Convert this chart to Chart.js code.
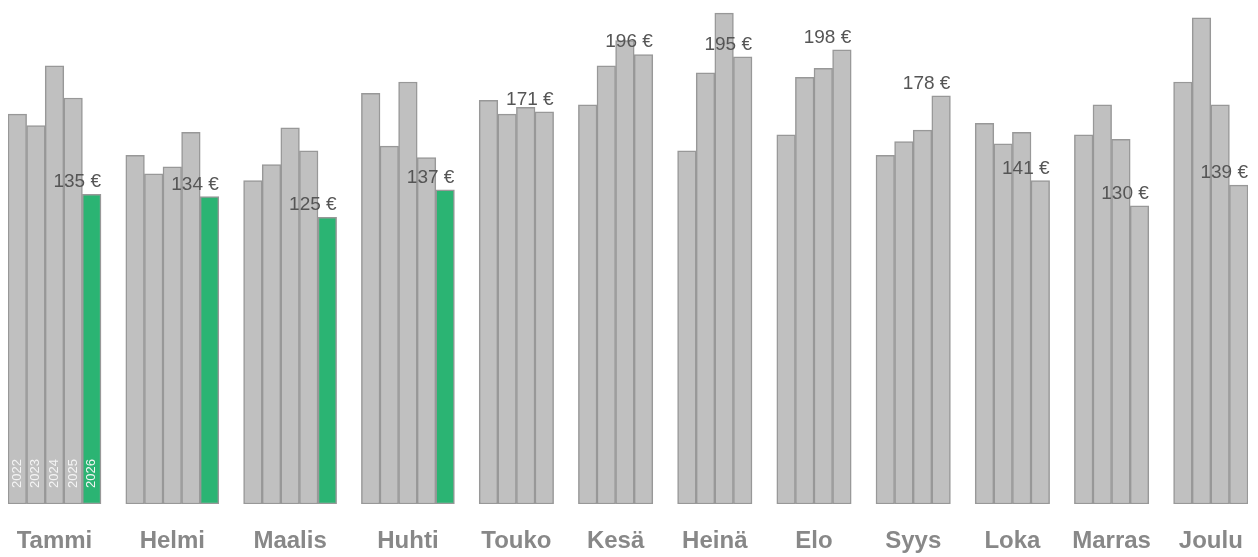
<!DOCTYPE html>
<html>
<head>
<meta charset="utf-8">
<script src="https://cdn.jsdelivr.net/npm/chart.js@4"></script>
<style>
  html, body { margin: 0; padding: 0; background: #fff; }
  #wrap { width: 1258px; height: 557px; }
</style>
</head>
<body>
<div id="wrap"><canvas id="kaavio"></canvas></div>
<script>
// Kuukaudet ja vuosien hinnat (€)
var kuukaudet = ['Tammi', 'Helmi', 'Maalis', 'Huhti', 'Touko', 'Kesä', 'Heinä', 'Elo', 'Syys', 'Loka', 'Marras', 'Joulu'];
var vuodet = ['2022', '2023', '2024', '2025', '2026'];
var v2022 = [170, 152, 141, 179, 176, 174, 154, 161, 152, 166, 161, 184];
var v2023 = [165, 144, 148, 156, 170, 191, 188, 186, 158, 157, 174, 212];
var v2024 = [191, 147, 164, 184, 173, 202, 214, 190, 163, 162, 159, 174];
var v2025 = [177, 162, 154, 151, 171, 196, 195, 198, 178, 141, 130, 139];
var v2026 = [135, 134, 125, 137, null, null, null, null, null, null, null, null];

var sarjat = [v2022, v2023, v2024, v2025, v2026];
var VALI = 1.333; // ryhmien väli pylväsleveyksinä

// Lasketaan pylväiden paikat x-akselilla (yksi yksikkö = yksi pylväs)
var paikat = [];   // paikat[kk][vuosi]
var kesket = [];
var pos = 0;
kuukaudet.forEach(function (kk, m) {
  var n = sarjat.filter(function (s) { return s[m] !== null; }).length;
  paikat.push([]);
  for (var j = 0; j < sarjat.length; j++) paikat[m].push(pos + j + 0.5);
  kesket.push(pos + n / 2);
  pos += n + VALI;
});
var yhteensa = pos - VALI;

var datasets = sarjat.map(function (s, j) {
  return {
    label: vuodet[j],
    data: s.map(function (v, m) { return { x: paikat[m][j], y: v }; }),
    backgroundColor: j === 4 ? '#2bb473' : '#c0c0c0',
    borderColor: '#989898',
    borderWidth: 1.5,
    borderSkipped: false,
    grouped: false,
    barPercentage: 1,
    categoryPercentage: 1
  };
});

// Arvot viimeisen pylvään päälle, vuosiluvut ensimmäiseen ryhmään, kuukaudet alle
var tekstit = {
  id: 'tekstit',
  afterDatasetsDraw: function (chart) {
    var c = chart.ctx;
    var pohja = chart.scales.y.getPixelForValue(0);
    c.save();
    kuukaudet.forEach(function (kk, m) {
      var j = sarjat.length - 1;
      while (j >= 0 && sarjat[j][m] === null) j--;
      var bar = chart.getDatasetMeta(j).data[m];
      c.font = '19px "Liberation Sans", Arial, sans-serif';
      c.fillStyle = '#555';
      c.textAlign = 'right';
      c.textBaseline = 'alphabetic';
      c.fillText(sarjat[j][m] + ' €', bar.x + bar.width / 2, bar.y - 7);

      c.font = 'bold 24px "Liberation Sans", Arial, sans-serif';
      c.fillStyle = '#888';
      c.textAlign = 'center';
      c.textBaseline = 'middle';
      c.fillText(kk, chart.scales.x.getPixelForValue(kesket[m]), pohja + 37);
    });
    sarjat.forEach(function (s, j) {
      var bar = chart.getDatasetMeta(j).data[0];
      c.save();
      c.translate(bar.x, pohja - 16);
      c.rotate(-Math.PI / 2);
      c.font = '13px "Liberation Sans", Arial, sans-serif';
      c.fillStyle = '#f4f4f4';
      c.textAlign = 'left';
      c.textBaseline = 'middle';
      c.fillText(vuodet[j], 0, 0);
      c.restore();
    });
    c.restore();
  }
};

var kaavio = new Chart(document.getElementById('kaavio').getContext('2d'), {
  type: 'bar',
  data: { datasets: datasets },
  options: {
    responsive: true,
    maintainAspectRatio: false,
    animation: false,
    layout: { padding: { left: 8, right: 10, top: 4, bottom: 53 } },
    plugins: { legend: { display: false }, tooltip: { enabled: false } },
    scales: {
      x: {
        type: 'linear',
        display: false,
        offset: false,
        min: 0,
        max: yhteensa
      },
      y: {
        display: false,
        min: 0,
        max: 218
      }
    }
  },
  plugins: [tekstit]
});
</script>
</body>
</html>
